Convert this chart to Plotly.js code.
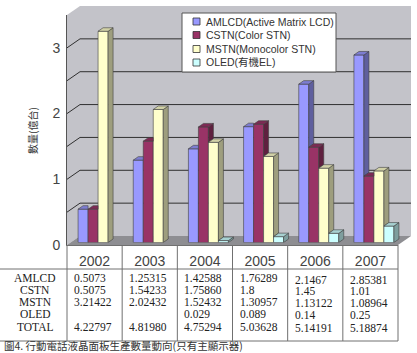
<!DOCTYPE html>
<html><head><meta charset="utf-8">
<script src="https://cdn.plot.ly/plotly-3.0.1.min.js"></script>
<style>html,body{margin:0;padding:0;background:#fff}#chart{width:417px;height:353px}</style>
</head><body><div id="chart"></div>
<script>
// ---------- data ----------
const years = ['2002','2003','2004','2005','2006','2007'];
const seriesNames = ['AMLCD(Active Matrix LCD)','CSTN(Color STN)','MSTN(Monocolor STN)','OLED(有機EL)'];
// bar heights as drawn in the chart
const amlcdBars = [0.5073, 1.25315, 1.42588, 1.76289, 2.41, 2.85381];
const cstnBars  = [0.5075, 1.54233, 1.7586, 1.8, 1.45, 1.01];
const mstnBars  = [3.21422, 2.02432, 1.52432, 1.30957, 1.13122, 1.08964];
const oledBars  = [null, null, 0.029, 0.089, 0.14, 0.25];
// data table text as printed under the chart
const rowLabels = ['AMLCD','CSTN','MSTN','OLED','TOTAL'];
const amlcdText = ['0.5073','1.25315','1.42588','1.76289','2.1467','2.85381'];
const cstnText  = ['0.5075','1.54233','1.75860','1.8','1.45','1.01'];
const mstnText  = ['3.21422','2.02432','1.52432','1.30957','1.13122','1.08964'];
const oledText  = ['','','0.029','0.089','0.14','0.25'];
const totalText = ['4.22797','4.81980','4.75294','5.03628','5.14191','5.18874'];
const yTicks = [0,1,2,3];
const gridVals = [0.5,1,1.5,2,2.5,3];
const yTitle = '數量(億台)';
const caption = '圖4. 行動電話液晶面板生產數量動向(只有主顯示器)';

// ---------- styling / geometry ----------
const colors = ['#9999ff','#993366','#ffffcc','#ccffff'];
const W=417, H=353;
const X0=67, X1=398, YB=245, YT=15, YMAX=3.5;
const WX=13, WY=9;        // wall depth offset (px)
const BX=3.5, BY=2.5;     // bar front plane offset (px)
const DX=5, DY=3.5;       // bar depth (px)
const GAP=0.275;
const pxX=(X1-X0)/years.length, pxY=(YB-YT)/YMAX;
const fx=p=>p/W, fy=p=>1-p/H;

function shade(hex,f){
  const n=parseInt(hex.slice(1),16);
  const r=Math.round(((n>>16)&255)*f),g=Math.round(((n>>8)&255)*f),b=Math.round((n&255)*f);
  return 'rgb('+r+','+g+','+b+')';
}

const series=[amlcdBars,cstnBars,mstnBars,oledBars];
const xs=years.map((_,i)=>i);
const traces=[];
const nS=series.length, bw=(1-GAP)/nS, dxd=DX/pxX, dyd=DY/pxY;

traces.push({type:'scatter',x:[],y:[],xaxis:'x',yaxis:'y',showlegend:false,hoverinfo:'skip'});
series.forEach((vals,k)=>{
  traces.push({type:'bar',name:seriesNames[k],x:xs,y:vals,xaxis:'x3',yaxis:'y3',
    marker:{color:colors[k],line:{color:'#404040',width:0.6}},showlegend:false,hoverinfo:'y'});
});
series.forEach((vals,k)=>{
  const sx=[],sy=[],tx=[],ty=[];
  vals.forEach((v,i)=>{
    if(v===null) return;
    const xl=i-(1-GAP)/2+k*bw, xr=xl+bw;
    const vR=(k<nS-1 && series[k+1][i]!==null)?series[k+1][i]:0;
    if(v>vR){
      sx.push(xr,xr+dxd,xr+dxd,xr,xr,null); sy.push(vR,vR+dyd,v+dyd,v,vR,null);
      tx.push(xl,xr,xr+dxd,xl+dxd,xl,null); ty.push(v,v,v+dyd,v+dyd,v,null);
    } else {
      tx.push(xl,xr,xr,xl+dxd,xl,null); ty.push(v,v,v+dyd,v+dyd,v,null);
    }
  });
  traces.push({type:'scatter',mode:'lines',x:sx,y:sy,xaxis:'x3',yaxis:'y3',fill:'toself',
    fillcolor:shade(colors[k],0.62),line:{color:'#404040',width:0.6},showlegend:false,hoverinfo:'skip'});
  traces.push({type:'scatter',mode:'lines',x:tx,y:ty,xaxis:'x3',yaxis:'y3',fill:'toself',
    fillcolor:shade(colors[k],0.82),line:{color:'#404040',width:0.6},showlegend:false,hoverinfo:'skip'});
});

// ---------- decorations: walls, floor, gridlines, table, legend ----------
const shapes=[];
const wallCol='#c3c3c9', floorCol='#8e8e92';
const poly=(pts,fill)=>shapes.push({type:'path',xref:'paper',yref:'paper',layer:'below',
  path:'M'+pts.map(p=>fx(p[0])+','+fy(p[1])).join('L')+'Z',fillcolor:fill,line:{width:0}});
poly([[X0,YT],[X0+WX,YT-WY],[X0+WX,YB-WY],[X0,YB]],wallCol);
poly([[X0+WX,YT-WY],[X1+WX,YT-WY],[X1+WX,YB-WY],[X0+WX,YB-WY]],wallCol);
poly([[X0,YB],[X0+WX,YB-WY],[X1+WX,YB-WY],[X1,YB]],floorCol);
gridVals.forEach(v=>{
  const py=YB-v*pxY;
  shapes.push({type:'path',xref:'paper',yref:'paper',layer:'below',
    path:'M'+fx(X0)+','+fy(py)+'L'+fx(X0+WX)+','+fy(py-WY)+'L'+fx(X1+WX)+','+fy(py-WY),
    line:{color:'#303030',width:1}});
});
const lineCol='#707070';
const tLine=(x0,y0,x1,y1)=>shapes.push({type:'line',xref:'paper',yref:'paper',x0:fx(x0),y0:fy(y0),x1:fx(x1),y1:fy(y1),line:{color:lineCol,width:1}});
tLine(0,269,X1,269); tLine(0,341,X1,341);
for(let i=0;i<=years.length;i++) tLine(X0+i*pxX,YB,X0+i*pxX,341);

const annotations=[];
const tFont={family:'Liberation Serif, Times New Roman, serif',size:11.5,color:'#222'};
const rowY=[277.5,290,302,313.5,327];
rowLabels.forEach((r,j)=>annotations.push({xref:'paper',yref:'paper',x:fx(35),y:fy(rowY[j]),text:r,showarrow:false,
  xanchor:'center',yanchor:'middle',font:tFont}));
const tableRows=[amlcdText,cstnText,mstnText,oledText,totalText];
tableRows.forEach((row,j)=>row.forEach((s,i)=>{
  if(s==='') return;
  const shift=(i>=4)?(j===0?2:1):0;
  annotations.push({xref:'paper',yref:'paper',x:fx(X0+i*pxX+5),y:fy(rowY[j]+shift),text:s,showarrow:false,
    xanchor:'left',yanchor:'middle',font:tFont});
}));
// legend
const LX0=182, LX1=336, LY0=13, LY1=72, legY=[21.5,35,49,62.5];
shapes.push({type:'rect',xref:'paper',yref:'paper',x0:fx(LX0),x1:fx(LX1),y0:fy(LY0),y1:fy(LY1),
  fillcolor:'#ffffff',line:{color:'#555',width:1}});
seriesNames.forEach((n,k)=>{
  shapes.push({type:'rect',xref:'paper',yref:'paper',x0:fx(193),x1:fx(200),y0:fy(legY[k]-3.5),y1:fy(legY[k]+3.5),
    fillcolor:colors[k],line:{color:'#333',width:0.8}});
  annotations.push({xref:'paper',yref:'paper',x:fx(204),y:fy(legY[k]),text:n,showarrow:false,xanchor:'left',yanchor:'middle',
    font:{family:'Liberation Sans, Noto Sans CJK TC, sans-serif',size:10.5,color:'#333'}});
});
annotations.push({xref:'paper',yref:'paper',x:fx(32),y:fy(130),text:yTitle,textangle:-90,showarrow:false,
  xanchor:'center',yanchor:'middle',font:{family:'Noto Sans CJK TC, sans-serif',size:10,color:'#333'}});
annotations.push({xref:'paper',yref:'paper',x:fx(2),y:fy(345.5),text:caption,showarrow:false,xanchor:'left',yanchor:'middle',
  font:{family:'Noto Sans CJK TC, sans-serif',size:10.5,color:'#333'}});

const axFont={family:'Liberation Sans Narrow, Liberation Sans, Arial, sans-serif',size:14,color:'#444'};
const layout={
  width:W,height:H,margin:{l:0,r:0,t:0,b:0},paper_bgcolor:'#fff',plot_bgcolor:'rgba(0,0,0,0)',
  showlegend:false,barmode:'group',bargap:GAP,bargroupgap:0,
  xaxis:{domain:[fx(X0),fx(X1)],range:[-0.5,years.length-0.5],tickvals:xs,ticktext:years,showgrid:false,zeroline:false,
    showline:true,linecolor:lineCol,linewidth:1,ticks:'',tickfont:axFont,ticklabelstandoff:3,anchor:'y',fixedrange:true},
  yaxis:{domain:[fy(YB),fy(YT)],range:[0,YMAX],tickvals:yTicks,showgrid:false,zeroline:false,showline:true,
    linecolor:'#555',linewidth:1,ticks:'',tickfont:axFont,ticklabelstandoff:3,anchor:'x',fixedrange:true},
  xaxis3:{domain:[fx(X0+BX),fx(X1+BX)],range:[-0.5,years.length-0.5],visible:false,anchor:'y3',fixedrange:true},
  yaxis3:{domain:[fy(YB-BY),fy(YT-BY)],range:[0,YMAX],visible:false,anchor:'x3',fixedrange:true},
  shapes:shapes,annotations:annotations
};
Plotly.newPlot('chart',traces,layout,{displayModeBar:false,staticPlot:true});
</script></body></html>
